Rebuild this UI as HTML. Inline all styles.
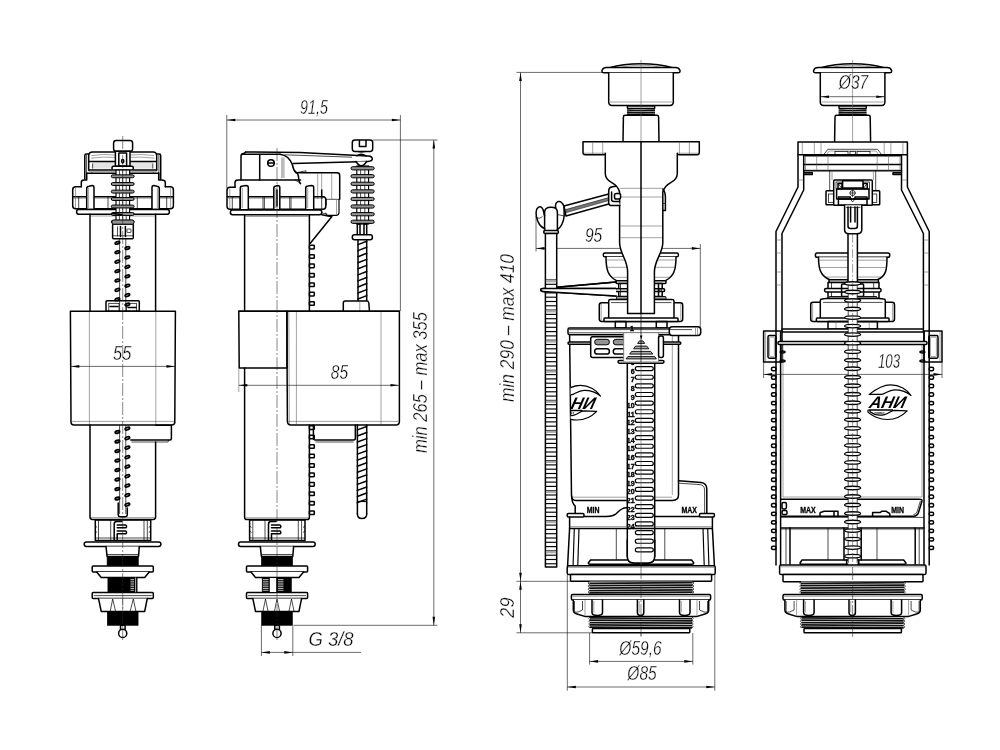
<!DOCTYPE html>
<html lang="en"><head><meta charset="utf-8"><title>Drawing</title><style>
html,body{margin:0;padding:0;background:#fff}
body{width:1000px;height:750px;overflow:hidden}
svg{display:block;will-change:transform}
.k{fill:none;stroke:#000;stroke-width:1.5;stroke-linejoin:round;stroke-linecap:round}
.kf{fill:#fff;stroke:#000;stroke-width:1.5;stroke-linejoin:round;stroke-linecap:round}
.cf{fill:#939393;stroke:#000;stroke-width:1}
.el{fill:#ccc;stroke:#000;stroke-width:1.7}
.mf{fill:#fff;stroke:#000;stroke-width:1.15}
.t{fill:none;stroke:#000;stroke-width:.7}
.g{fill:none;stroke:#555;stroke-width:.55}
.d{fill:none;stroke:#111;stroke-width:.62}
.c{fill:none;stroke:#222;stroke-width:.55;stroke-dasharray:13 2 2 2}
.w{fill:none;stroke:#fff;stroke-width:.7}
.b{fill:#000;stroke:none}
.sh{fill:#bbb;stroke:none}
.sh3{fill:#e4e4e4;stroke:none}
.wf{fill:#fff;stroke:none}
.th{fill:none;stroke:#111;stroke-width:1.75}
.hf{fill:#777;stroke:#000;stroke-width:.5}
.sh2{fill:#aaa;stroke:none}
.sl{fill:#fff;stroke:#000;stroke-width:1.15}
.sb{fill:#fff;stroke:#777;stroke-width:.9}
.trs{fill:#a8a8a8;stroke:#000;stroke-width:.9;stroke-linejoin:round}
.m{fill:none;stroke:#000;stroke-width:1.15}
.lg{fill:#fff;stroke:#000;stroke-width:1.2;stroke-linejoin:round}
.lt{font-family:"Liberation Sans","DejaVu Sans",sans-serif;font-weight:bold;font-style:italic;fill:#000}
.ls{font-family:"Liberation Sans","DejaVu Sans",sans-serif;font-weight:bold;fill:#000}
.sp{fill:#fff;stroke:#000;stroke-width:1.4}
.c2{fill:none;stroke:#444;stroke-width:.5;stroke-dasharray:9 2 2 2}
.bk{fill:#000;stroke:#000;stroke-width:.6}
.gf{fill:#999;stroke:#000;stroke-width:.9}
.tx{font-family:"Liberation Sans","DejaVu Sans",sans-serif;font-style:italic;fill:#000;stroke:#fff;stroke-width:.36}
.tb{font-family:"Liberation Sans","DejaVu Sans",sans-serif;font-weight:bold;fill:#000;stroke:#000;stroke-width:.35}
</style></head><body>
<svg width="1000" height="750" viewBox="0 0 1000 750">
<rect x="0" y="0" width="1000" height="750" fill="#fff"/>
<rect class="kf" x="113.6" y="140.4" width="19" height="10.9" rx="2.6"/>
<path class="kf" d="M88.7,170 V156 Q88.7,152 92.5,152 H153 Q156.7,152 156.7,156 V170"/>
<path class="g" d="M91.5,155.6 Q104,153.6 115,155 M154,155.6 Q141,153.6 130.5,155"/>
<path class="g" d="M91,158.2 Q104,156.4 115,157.4 M154.5,158.2 Q141,156.4 130.5,157.4"/>
<rect class="sh3" x="92.6" y="162.2" width="22.7" height="6.4"/>
<rect class="sh3" x="130" y="162.2" width="22.8" height="6.4"/>
<line class="k" x1="89.5" y1="161.4" x2="115.3" y2="161.4"/>
<line class="k" x1="130" y1="161.4" x2="156" y2="161.4"/>
<path class="t" d="M92.6,168.6 V163.5 M152.8,168.6 V163.5"/>
<path class="k" d="M84.8,179.3 V155.5 Q84.8,154 86.3,154 H88.7"/>
<line class="t" x1="86.6" y1="155" x2="86.6" y2="179"/>
<path class="k" d="M160.7,179.3 V155.5 Q160.7,154 159.2,154 H156.7"/>
<line class="t" x1="158.9" y1="155" x2="158.9" y2="179"/>
<rect class="kf" x="115.4" y="151.3" width="14.6" height="14.9"/>
<rect class="k" x="118.8" y="153" width="7.8" height="13.2"/>
<ellipse class="k" cx="122.7" cy="161.2" rx="1.1" ry="1.7"/>
<rect class="kf" x="112" y="166.2" width="21.3" height="3.8" rx="1.6"/>
<line class="k" x1="88.7" y1="170" x2="112" y2="170"/>
<line class="k" x1="133.3" y1="170" x2="156.7" y2="170"/>
<line class="k" x1="92" y1="173.3" x2="153.5" y2="173.3"/>
<line class="g" x1="88.7" y1="171.6" x2="156.7" y2="171.6"/>
<path class="k" d="M86.7,173.3 V180 H84 Q81.3,180 81.3,182.5 V186.7"/>
<path class="k" d="M158.7,173.3 V180 H161.5 Q165.3,180 165.3,182.5 V186.7"/>
<line class="k" x1="86.7" y1="173.3" x2="92" y2="173.3"/>
<line class="k" x1="153.5" y1="173.3" x2="158.7" y2="173.3"/>
<path class="k" d="M81.3,186.7 H75.7 Q72.7,186.7 72.7,189.7 V205.8 Q72.7,208.8 75.7,208.8 H170.4 Q173.4,208.8 173.4,205.8 V189.7 Q173.4,186.7 170.4,186.7 H165.3"/>
<line class="k" x1="73" y1="196.7" x2="173" y2="196.7"/>
<line class="g" x1="73" y1="198.2" x2="173" y2="198.2"/>
<line class="t" x1="78.7" y1="197" x2="78.7" y2="208.5"/>
<line class="t" x1="93.4" y1="197" x2="93.4" y2="208.5"/>
<line class="t" x1="108" y1="197" x2="108" y2="208.5"/>
<line class="t" x1="137.3" y1="197" x2="137.3" y2="208.5"/>
<line class="t" x1="152" y1="197" x2="152" y2="208.5"/>
<line class="t" x1="166.7" y1="197" x2="166.7" y2="208.5"/>
<line class="g" x1="75.5" y1="188" x2="75.5" y2="208"/>
<line class="g" x1="170.6" y1="188" x2="170.6" y2="208"/>
<path class="kf" d="M86.7,208.8 V188.5 Q86.7,186.5 89,186.2 L92,185.6 Q94,185.6 94,187.5 V208.8"/>
<path class="kf" d="M152,208.8 V187.5 Q152,185.6 154,185.6 L157,186.2 Q159.3,186.5 159.3,188.5 V208.8"/>
<line class="g" x1="88.6" y1="188" x2="88.6" y2="208"/>
<line class="g" x1="157.4" y1="188" x2="157.4" y2="208"/>
<rect class="kf" x="76.6" y="209.6" width="92.8" height="4.6" rx="2.2"/>
<line class="k" x1="90" y1="214.2" x2="90" y2="311.3"/>
<line class="k" x1="155.6" y1="214.2" x2="155.6" y2="311.3"/>
<line class="g" x1="90.5" y1="216" x2="155" y2="216"/>
<rect class="mf" x="116" y="170" width="13.6" height="52"/>
<line class="t" x1="119.4" y1="170" x2="119.4" y2="222"/>
<line class="t" x1="122.7" y1="170" x2="122.7" y2="222"/>
<line class="t" x1="126.2" y1="170" x2="126.2" y2="222"/>
<rect class="cf" x="111.3" y="174.85" width="22.8" height="2.9" rx="1.45"/>
<rect class="cf" x="111.3" y="182.55" width="22.8" height="2.9" rx="1.45"/>
<rect class="cf" x="111.3" y="190.15" width="22.8" height="2.9" rx="1.45"/>
<rect class="cf" x="111.3" y="197.55" width="22.8" height="2.9" rx="1.45"/>
<rect class="cf" x="111.3" y="205.05" width="22.8" height="2.9" rx="1.45"/>
<rect class="cf" x="111.3" y="212.55" width="22.8" height="2.9" rx="1.45"/>
<rect class="cf" x="111.3" y="220.35" width="22.8" height="2.9" rx="1.45"/>
<line class="k" x1="112.5" y1="213.6" x2="122" y2="214.6"/>
<rect class="kf" x="112.6" y="224" width="20.7" height="14.8" rx="1"/>
<rect class="cf" x="112" y="220" width="21.9" height="4.2" rx="1.6"/>
<line class="t" x1="117.5" y1="226.5" x2="117.5" y2="236.5"/>
<line class="k" x1="120.5" y1="226.5" x2="120.5" y2="236.5"/>
<line class="k" x1="125.4" y1="226.5" x2="125.4" y2="236.5"/>
<rect class="t" x="127" y="229" width="4" height="3.5" rx="0.5"/>
<line class="t" x1="113" y1="235.8" x2="133" y2="235.8"/>
<line class="t" x1="119.6" y1="238.8" x2="119.6" y2="311"/>
<line class="t" x1="125.8" y1="238.8" x2="125.8" y2="311"/>
<ellipse class="el" cx="117.4" cy="242.8" rx="2.35" ry="1.15" transform="rotate(-20 117.4 242.8)"/>
<ellipse class="el" cx="117.4" cy="252.22" rx="2.35" ry="1.15" transform="rotate(-20 117.4 252.22)"/>
<ellipse class="el" cx="117.4" cy="261.64" rx="2.35" ry="1.15" transform="rotate(-20 117.4 261.64)"/>
<ellipse class="el" cx="117.4" cy="271.06" rx="2.35" ry="1.15" transform="rotate(-20 117.4 271.06)"/>
<ellipse class="el" cx="117.4" cy="280.48" rx="2.35" ry="1.15" transform="rotate(-20 117.4 280.48)"/>
<ellipse class="el" cx="117.4" cy="289.9" rx="2.35" ry="1.15" transform="rotate(-20 117.4 289.9)"/>
<ellipse class="el" cx="117.4" cy="299.32" rx="2.35" ry="1.15" transform="rotate(-20 117.4 299.32)"/>
<ellipse class="el" cx="127.4" cy="248" rx="2.35" ry="1.15" transform="rotate(-20 127.4 248)"/>
<ellipse class="el" cx="127.4" cy="257.42" rx="2.35" ry="1.15" transform="rotate(-20 127.4 257.42)"/>
<ellipse class="el" cx="127.4" cy="266.84" rx="2.35" ry="1.15" transform="rotate(-20 127.4 266.84)"/>
<ellipse class="el" cx="127.4" cy="276.26" rx="2.35" ry="1.15" transform="rotate(-20 127.4 276.26)"/>
<ellipse class="el" cx="127.4" cy="285.68" rx="2.35" ry="1.15" transform="rotate(-20 127.4 285.68)"/>
<ellipse class="el" cx="127.4" cy="295.1" rx="2.35" ry="1.15" transform="rotate(-20 127.4 295.1)"/>
<ellipse class="el" cx="127.4" cy="304.52" rx="2.35" ry="1.15" transform="rotate(-20 127.4 304.52)"/>
<rect class="k" x="106" y="300.7" width="33.3" height="10.6" rx="1"/>
<rect class="t" x="108.8" y="303.3" width="10.2" height="8"/>
<rect class="t" x="126.5" y="303.3" width="10.1" height="8"/>
<line class="k" x1="110" y1="306.5" x2="118" y2="306.5"/>
<line class="k" x1="128" y1="307.5" x2="136" y2="307.5"/>
<path class="k" d="M70.4,311.3 H175.4 L174.8,422 Q174.8,425 171.8,425 H74 Q71,425 71,422 Z"/>
<line class="g" x1="72" y1="421.4" x2="174" y2="421.4"/>
<line class="g" x1="89.4" y1="311.8" x2="89.4" y2="424.5"/>
<line class="g" x1="155.8" y1="311.8" x2="155.8" y2="424.5"/>
<line class="d" x1="70.8" y1="366.4" x2="175" y2="366.4"/>
<polygon class="b" points="70.8,366.4 79.3,365.1 79.3,367.7"/>
<polygon class="b" points="175,366.4 166.5,365.1 166.5,367.7"/>
<text class="tx" transform="translate(122.2 360) scale(0.78 1)" font-size="21" text-anchor="middle">55</text>
<path class="k" d="M90,425 V517 Q90,519.4 92.4,519.4 H153.2 Q155.6,519.4 155.6,517 V442"/>
<line class="g" x1="91" y1="517.6" x2="154.6" y2="517.6"/>
<path class="k" d="M155.6,425.3 H171.4 V438.5 Q171.4,440 170,440 H130.8"/>
<line class="t" x1="131.5" y1="442" x2="168" y2="442"/>
<line class="t" x1="168" y1="442" x2="169" y2="440"/>
<line class="t" x1="119.6" y1="425.3" x2="119.6" y2="514"/>
<line class="t" x1="125.8" y1="425.3" x2="125.8" y2="514"/>
<ellipse class="el" cx="117.4" cy="432" rx="2.35" ry="1.15" transform="rotate(-20 117.4 432)"/>
<ellipse class="el" cx="117.4" cy="441.5" rx="2.35" ry="1.15" transform="rotate(-20 117.4 441.5)"/>
<ellipse class="el" cx="117.4" cy="451" rx="2.35" ry="1.15" transform="rotate(-20 117.4 451)"/>
<ellipse class="el" cx="117.4" cy="460.5" rx="2.35" ry="1.15" transform="rotate(-20 117.4 460.5)"/>
<ellipse class="el" cx="117.4" cy="470" rx="2.35" ry="1.15" transform="rotate(-20 117.4 470)"/>
<ellipse class="el" cx="117.4" cy="479.5" rx="2.35" ry="1.15" transform="rotate(-20 117.4 479.5)"/>
<ellipse class="el" cx="117.4" cy="489" rx="2.35" ry="1.15" transform="rotate(-20 117.4 489)"/>
<ellipse class="el" cx="117.4" cy="498.5" rx="2.35" ry="1.15" transform="rotate(-20 117.4 498.5)"/>
<ellipse class="el" cx="127.4" cy="428.6" rx="2.35" ry="1.15" transform="rotate(-20 127.4 428.6)"/>
<ellipse class="el" cx="127.4" cy="438.1" rx="2.35" ry="1.15" transform="rotate(-20 127.4 438.1)"/>
<ellipse class="el" cx="127.4" cy="447.6" rx="2.35" ry="1.15" transform="rotate(-20 127.4 447.6)"/>
<ellipse class="el" cx="127.4" cy="457.1" rx="2.35" ry="1.15" transform="rotate(-20 127.4 457.1)"/>
<ellipse class="el" cx="127.4" cy="466.6" rx="2.35" ry="1.15" transform="rotate(-20 127.4 466.6)"/>
<ellipse class="el" cx="127.4" cy="476.1" rx="2.35" ry="1.15" transform="rotate(-20 127.4 476.1)"/>
<ellipse class="el" cx="127.4" cy="485.6" rx="2.35" ry="1.15" transform="rotate(-20 127.4 485.6)"/>
<ellipse class="el" cx="127.4" cy="495.1" rx="2.35" ry="1.15" transform="rotate(-20 127.4 495.1)"/>
<ellipse class="el" cx="127.4" cy="504.6" rx="2.35" ry="1.15" transform="rotate(-20 127.4 504.6)"/>
<path class="k" d="M118.2,503 V514.5 Q118.2,516.8 120.4,516.8 H125 Q127.3,516.8 127.3,514.5 V508"/>
<rect class="k" x="95.3" y="520" width="55.4" height="20.5"/>
<line class="t" x1="98.5" y1="520" x2="98.5" y2="540.5"/>
<line class="t" x1="110.7" y1="520" x2="110.7" y2="540.5"/>
<line class="t" x1="144" y1="520" x2="144" y2="540.5"/>
<line class="t" x1="147.3" y1="520" x2="147.3" y2="540.5"/>
<line class="t" x1="95.3" y1="526" x2="97.2" y2="527.5"/>
<line class="t" x1="150.7" y1="526" x2="148.7" y2="527.5"/>
<line class="t" x1="95.3" y1="531" x2="97.2" y2="532.5"/>
<line class="t" x1="150.7" y1="531" x2="148.7" y2="532.5"/>
<path class="k" d="M114.2,540 V524 Q114.2,521.5 116.7,521.5 H121.7"/>
<path class="k" d="M117.2,525 H125.7 Q127.5,526.4 125.7,527.8 H117.2"/>
<path class="k" d="M117.2,531 H125.7 Q127.5,532.4 125.7,533.8 H117.2 V540"/>
<line class="t" x1="95.3" y1="538" x2="150.7" y2="538"/>
<rect class="kf" x="84.2" y="542" width="76.7" height="4.4" rx="2.2"/>
<path class="kf" d="M106,546.4 L107.1,556.5 H138.5 L139.3,546.4"/>
<line class="t" x1="107.1" y1="554.5" x2="138.5" y2="554.5"/>
<rect class="bk" x="107.1" y="556.6" width="31.2" height="9.2"/>
<rect class="kf" x="92.2" y="566" width="61.1" height="6" rx="1"/>
<path class="kf" d="M96.7,572 L101.2,577.4 H144.7 L149.2,572"/>
<rect class="bk" x="107.9" y="577.6" width="29.2" height="14.6"/>
<rect class="kf" x="92.2" y="592.4" width="61.1" height="6" rx="1"/>
<line class="t" x1="93.7" y1="595.6" x2="151.7" y2="595.6"/>
<path class="kf" d="M98.5,598.4 L101.2,611.4 H144.7 L147.3,598.4"/>
<rect class="bk" x="107.3" y="611.6" width="30.8" height="13.7"/>
<rect class="kf" x="120.5" y="625.3" width="4.6" height="5.2"/>
<circle class="kf" cx="122.7" cy="633.4" r="4.1"/>
<line class="w" x1="130.5" y1="579.5" x2="134" y2="579.5"/>
<line class="w" x1="130.5" y1="581.3" x2="134" y2="581.3"/>
<line class="w" x1="130.5" y1="583.1" x2="134" y2="583.1"/>
<line class="w" x1="130.5" y1="584.9" x2="134" y2="584.9"/>
<line class="w" x1="130.5" y1="586.7" x2="134" y2="586.7"/>
<line class="w" x1="130.5" y1="588.5" x2="134" y2="588.5"/>
<line class="w" x1="130.5" y1="590.3" x2="134" y2="590.3"/>
<line class="w" x1="135.6" y1="577.6" x2="135.6" y2="592.2"/>
<path class="t" d="M110.3,611 L112.7,599 L115.5,611 M130.2,611 L133.3,599 L135.9,611"/>
<line class="g" x1="122.7" y1="598.6" x2="122.7" y2="611"/>
<line class="c" x1="122.7" y1="136" x2="122.7" y2="640"/>
<line class="d" x1="226.8" y1="115" x2="226.8" y2="188"/>
<line class="d" x1="400.4" y1="115" x2="400.4" y2="311"/>
<line class="d" x1="226.8" y1="120" x2="400.4" y2="120"/>
<polygon class="b" points="226.8,120 235.3,118.7 235.3,121.3"/>
<polygon class="b" points="400.4,120 391.9,118.7 391.9,121.3"/>
<text class="tx" transform="translate(314 114) scale(0.68 1)" font-size="21" text-anchor="middle">91,5</text>
<line class="d" x1="373" y1="140" x2="437.5" y2="140"/>
<line class="d" x1="293.5" y1="625.3" x2="437.5" y2="625.3"/>
<line class="d" x1="433.8" y1="140" x2="433.8" y2="625.3"/>
<polygon class="b" points="433.8,140 432.5,148.5 435.1,148.5"/>
<polygon class="b" points="433.8,625.3 432.5,616.8 435.1,616.8"/>
<text class="tx" transform="translate(426.5 382.5) rotate(-90) scale(0.79 1)" font-size="21" text-anchor="middle">min 265 – max 355</text>
<path class="kf" d="M245.7,152 L300,152.6 L368,155.9 Q372.3,156.2 372.3,158.8 Q372.3,161.3 368,161.4 L293,163.5"/>
<line class="t" x1="284.5" y1="154.8" x2="352" y2="157.2"/>
<path class="k" d="M241,180 V156.5 Q241,154 243.5,153.6 L245.7,152.2"/>
<line class="k" x1="241.5" y1="154.2" x2="280" y2="154.2"/>
<line class="k" x1="259.7" y1="154.6" x2="259.7" y2="180"/>
<circle class="k" cx="271" cy="163" r="3.3"/>
<line class="k" x1="268.2" y1="163" x2="273.8" y2="163"/>
<rect class="sh" x="281" y="157.5" width="3.6" height="20.5"/>
<path class="k" d="M280,154.2 Q289,155.5 292.3,164.5 Q293.3,170 296,172.7 H337 Q339.7,172.7 339.7,175.4 V199.3"/>
<path class="k" d="M295,171.3 Q298.5,173 298.6,178 Q298.8,182 300.5,183.6"/>
<line class="t" x1="296" y1="172.7" x2="306" y2="170.8"/>
<line class="t" x1="306" y1="170.8" x2="306" y2="172.7"/>
<line class="g" x1="317.7" y1="173" x2="317.7" y2="199"/>
<line class="g" x1="321.7" y1="173" x2="321.7" y2="199"/>
<line class="g" x1="331.7" y1="173" x2="331.7" y2="199"/>
<path class="t" d="M326,199.3 H339.7"/>
<path class="m" d="M326,199.3 V205 M339,199.3 V212.5 Q339,215.4 336,215.4 H328.5 Q326,215.4 325.8,213"/>
<line class="g" x1="336.5" y1="200" x2="336.5" y2="214.5"/>
<path class="k" d="M300.5,180 H238 Q235,180 235,182.6 V187.3"/>
<path class="t" d="M300.5,183.6 Q298,181.5 295,180"/>
<path class="k" d="M235,187.3 H230 Q227,187.3 227,190.3 V206.3 Q227,209.3 230,209.3 H323 Q325.8,209.3 325.8,206.3 V199.5 Q325.8,196.7 323,196.7"/>
<line class="k" x1="227.3" y1="196.7" x2="323" y2="196.7"/>
<line class="g" x1="227.3" y1="198.2" x2="323" y2="198.2"/>
<path class="k" d="M321.7,196.7 V190"/>
<line class="t" x1="232.3" y1="197" x2="232.3" y2="209"/>
<line class="t" x1="239.7" y1="197" x2="239.7" y2="209"/>
<line class="t" x1="246.3" y1="197" x2="246.3" y2="209"/>
<line class="t" x1="263" y1="197" x2="263" y2="209"/>
<line class="t" x1="264.4" y1="197" x2="264.4" y2="209"/>
<line class="t" x1="289.7" y1="197" x2="289.7" y2="209"/>
<line class="t" x1="291" y1="197" x2="291" y2="209"/>
<line class="t" x1="307" y1="197" x2="307" y2="209"/>
<line class="t" x1="321.7" y1="197" x2="321.7" y2="209"/>
<line class="g" x1="229.8" y1="188.5" x2="229.8" y2="208.5"/>
<path class="kf" d="M240.3,209 V188.2 Q240.3,186.2 242.5,186 L246.1,185.5 Q248.3,185.5 248.3,187.5 V209"/>
<line class="g" x1="242.3" y1="188" x2="242.3" y2="208"/>
<path class="kf" d="M273.8,209 V188.2 Q273.8,186.2 276,186 L277.6,185.5 Q279.8,185.5 279.8,187.5 V209"/>
<line class="g" x1="275.8" y1="188" x2="275.8" y2="208"/>
<path class="kf" d="M305.7,209 V188.2 Q305.7,186.2 307.9,186 L311.5,185.5 Q313.7,185.5 313.7,187.5 V209"/>
<line class="g" x1="307.7" y1="188" x2="307.7" y2="208"/>
<line class="k" x1="277" y1="190" x2="277" y2="206"/>
<rect class="kf" x="230.4" y="210" width="91.4" height="4.7" rx="2.2"/>
<path class="k" d="M321.8,214.7 L331.7,216.7"/>
<path class="t" d="M325.8,213 Q324,214.5 321.8,212.5"/>
<line class="k" x1="331.7" y1="216.7" x2="310.3" y2="243.3"/>
<line class="k" x1="244.6" y1="214.7" x2="244.6" y2="311.3"/>
<line class="k" x1="309.4" y1="214.7" x2="309.4" y2="311.3"/>
<line class="g" x1="245.2" y1="216.5" x2="308.8" y2="216.5"/>
<rect class="k" x="309.4" y="245.3" width="4.9" height="3.6" rx="0.6"/>
<rect class="k" x="309.4" y="254.7" width="4.9" height="3.6" rx="0.6"/>
<rect class="k" x="309.4" y="264.1" width="4.9" height="3.6" rx="0.6"/>
<rect class="k" x="309.4" y="273.5" width="4.9" height="3.6" rx="0.6"/>
<rect class="k" x="309.4" y="282.9" width="4.9" height="3.6" rx="0.6"/>
<rect class="k" x="309.4" y="292.3" width="4.9" height="3.6" rx="0.6"/>
<rect class="k" x="309.4" y="301.7" width="4.9" height="3.6" rx="0.6"/>
<rect class="kf" x="352.3" y="140" width="20.4" height="11.4" rx="2.6"/>
<path class="k" d="M359.4,140.4 V146.6 H366 V140.4"/>
<path class="t" d="M356.5,151.4 Q361.3,153.5 366,151.4"/>
<path class="kf" d="M356,161.5 Q361.3,170 366.6,161.5"/>
<path class="k" d="M356.8,155.8 Q361.3,152.8 366,156"/>
<rect class="mf" x="356.8" y="166" width="11.8" height="58"/>
<line class="t" x1="360.6" y1="166" x2="360.6" y2="224"/>
<line class="t" x1="364.8" y1="166" x2="364.8" y2="224"/>
<rect class="cf" x="351" y="166.7" width="23.2" height="3.2" rx="1.6"/>
<rect class="cf" x="351" y="174.6" width="23.2" height="3.2" rx="1.6"/>
<rect class="cf" x="351" y="182.2" width="23.2" height="3.2" rx="1.6"/>
<rect class="cf" x="351" y="189.8" width="23.2" height="3.2" rx="1.6"/>
<rect class="cf" x="351" y="197.4" width="23.2" height="3.2" rx="1.6"/>
<rect class="cf" x="351" y="204.9" width="23.2" height="3.2" rx="1.6"/>
<rect class="cf" x="351" y="212.6" width="23.2" height="3.2" rx="1.6"/>
<rect class="cf" x="351" y="220.2" width="23.2" height="3.2" rx="1.6"/>
<rect class="k" x="357.3" y="224" width="2.7" height="10.7"/>
<rect class="k" x="364" y="224" width="2.7" height="10.7"/>
<rect class="kf" x="352.3" y="234.7" width="20.1" height="5" rx="2.2"/>
<line class="k" x1="358" y1="239.7" x2="358" y2="301"/>
<line class="k" x1="366.7" y1="239.7" x2="366.7" y2="301"/>
<line class="k" x1="358" y1="244.6" x2="366.7" y2="241.2"/>
<line class="k" x1="358" y1="250.65" x2="366.7" y2="247.25"/>
<line class="k" x1="358" y1="256.7" x2="366.7" y2="253.3"/>
<line class="k" x1="358" y1="262.75" x2="366.7" y2="259.35"/>
<line class="k" x1="358" y1="268.8" x2="366.7" y2="265.4"/>
<line class="k" x1="358" y1="274.85" x2="366.7" y2="271.45"/>
<line class="k" x1="358" y1="280.9" x2="366.7" y2="277.5"/>
<line class="k" x1="358" y1="286.95" x2="366.7" y2="283.55"/>
<line class="k" x1="358" y1="293" x2="366.7" y2="289.6"/>
<line class="k" x1="358" y1="299.05" x2="366.7" y2="295.65"/>
<path class="kf" d="M343.3,311.3 V303 Q343.3,301 345.3,301 H367 Q368.6,301 368.8,303 L369.5,311.3"/>
<line class="g" x1="359.8" y1="301.5" x2="359.8" y2="311"/>
<path class="k" d="M238.8,311.3 H287 V368 H239.2 Z"/>
<line class="g" x1="238.8" y1="368" x2="238.8" y2="392"/>
<path class="k" d="M286.8,311.3 H399.4 V421.5 Q399.4,425 396,425 H291 Q287.6,425 287.4,421.5 Z"/>
<line class="g" x1="288.8" y1="312" x2="289.3" y2="424"/>
<line class="g" x1="296.4" y1="312" x2="296.4" y2="424.5"/>
<line class="g" x1="381" y1="312" x2="381" y2="424.5"/>
<line class="g" x1="288" y1="421.4" x2="399" y2="421.4"/>
<line class="k" x1="238.8" y1="311.3" x2="399.4" y2="311.3"/>
<line class="d" x1="238.8" y1="385.3" x2="399" y2="385.3"/>
<polygon class="b" points="238.8,385.3 247.3,384 247.3,386.6"/>
<polygon class="b" points="399,385.3 390.5,384 390.5,386.6"/>
<text class="tx" transform="translate(339.5 378.6) scale(0.74 1)" font-size="21" text-anchor="middle">85</text>
<path class="k" d="M244.6,368 V517.2 Q244.6,519.6 247,519.6 H307 Q309.4,519.6 309.4,517.2 V425"/>
<line class="g" x1="245.5" y1="517.8" x2="308.5" y2="517.8"/>
<rect class="k" x="309.4" y="425.8" width="4.9" height="3.6" rx="0.6"/>
<rect class="k" x="309.4" y="435.26" width="4.9" height="3.6" rx="0.6"/>
<rect class="k" x="309.4" y="444.72" width="4.9" height="3.6" rx="0.6"/>
<rect class="k" x="309.4" y="454.18" width="4.9" height="3.6" rx="0.6"/>
<rect class="k" x="309.4" y="463.64" width="4.9" height="3.6" rx="0.6"/>
<rect class="k" x="309.4" y="473.1" width="4.9" height="3.6" rx="0.6"/>
<rect class="k" x="309.4" y="482.56" width="4.9" height="3.6" rx="0.6"/>
<rect class="k" x="309.4" y="492.02" width="4.9" height="3.6" rx="0.6"/>
<rect class="k" x="309.4" y="501.48" width="4.9" height="3.6" rx="0.6"/>
<rect class="k" x="309.4" y="510.94" width="4.9" height="3.6" rx="0.6"/>
<path class="k" d="M313.4,425 V438.6 Q313.4,440 315,440 H354 Q355.4,440 355.4,438.6 V425"/>
<line class="t" x1="315.5" y1="442" x2="353.5" y2="442"/>
<line class="t" x1="355.4" y1="425" x2="355.4" y2="440"/>
<line class="k" x1="357.4" y1="425" x2="357.4" y2="503"/>
<line class="k" x1="366.7" y1="425" x2="366.7" y2="503"/>
<line class="k" x1="357.4" y1="429.9" x2="366.7" y2="426.5"/>
<line class="k" x1="357.4" y1="435.95" x2="366.7" y2="432.55"/>
<line class="k" x1="357.4" y1="442" x2="366.7" y2="438.6"/>
<line class="k" x1="357.4" y1="448.05" x2="366.7" y2="444.65"/>
<line class="k" x1="357.4" y1="454.1" x2="366.7" y2="450.7"/>
<line class="k" x1="357.4" y1="460.15" x2="366.7" y2="456.75"/>
<line class="k" x1="357.4" y1="466.2" x2="366.7" y2="462.8"/>
<line class="k" x1="357.4" y1="472.25" x2="366.7" y2="468.85"/>
<line class="k" x1="357.4" y1="478.3" x2="366.7" y2="474.9"/>
<line class="k" x1="357.4" y1="484.35" x2="366.7" y2="480.95"/>
<line class="k" x1="357.4" y1="490.4" x2="366.7" y2="487"/>
<line class="k" x1="357.4" y1="496.45" x2="366.7" y2="493.05"/>
<line class="k" x1="357.4" y1="502.5" x2="366.7" y2="499.1"/>
<line class="k" x1="357.4" y1="503" x2="357.4" y2="514"/>
<line class="k" x1="366.7" y1="503" x2="366.7" y2="514"/>
<line class="m" x1="357.4" y1="501.5" x2="366.7" y2="501.5"/>
<path class="k" d="M357.4,514 Q357.4,518.5 362,518.5 Q366.7,518.5 366.7,514"/>
<rect class="k" x="249.6" y="520" width="55.4" height="20.5"/>
<line class="t" x1="252.8" y1="520" x2="252.8" y2="540.5"/>
<line class="t" x1="265" y1="520" x2="265" y2="540.5"/>
<line class="t" x1="298.3" y1="520" x2="298.3" y2="540.5"/>
<line class="t" x1="301.6" y1="520" x2="301.6" y2="540.5"/>
<line class="t" x1="249.6" y1="526" x2="251.5" y2="527.5"/>
<line class="t" x1="305" y1="526" x2="303" y2="527.5"/>
<line class="t" x1="249.6" y1="531" x2="251.5" y2="532.5"/>
<line class="t" x1="305" y1="531" x2="303" y2="532.5"/>
<path class="k" d="M268.5,540 V524 Q268.5,521.5 271,521.5 H276"/>
<path class="k" d="M271.5,525 H280 Q281.8,526.4 280,527.8 H271.5"/>
<path class="k" d="M271.5,531 H280 Q281.8,532.4 280,533.8 H271.5 V540"/>
<line class="t" x1="249.6" y1="538" x2="305" y2="538"/>
<rect class="kf" x="238.5" y="542" width="76.7" height="4.4" rx="2.2"/>
<path class="kf" d="M260.3,546.4 L261.4,556.5 H292.8 L293.6,546.4"/>
<line class="t" x1="261.4" y1="554.5" x2="292.8" y2="554.5"/>
<rect class="bk" x="261.4" y="556.6" width="31.2" height="9.2"/>
<rect class="kf" x="246.5" y="566" width="61.1" height="6" rx="1"/>
<path class="kf" d="M251,572 L255.5,577.4 H299 L303.5,572"/>
<rect class="bk" x="262.2" y="577.6" width="29.2" height="14.6"/>
<rect class="kf" x="246.5" y="592.4" width="61.1" height="6" rx="1"/>
<line class="t" x1="248" y1="595.6" x2="306" y2="595.6"/>
<path class="kf" d="M252.8,598.4 L255.5,611.4 H299 L301.6,598.4"/>
<rect class="bk" x="261.6" y="611.6" width="30.8" height="13.7"/>
<rect class="kf" x="274.8" y="625.3" width="4.6" height="5.2"/>
<circle class="kf" cx="277" cy="633.4" r="4.1"/>
<rect class="wf" x="269.8" y="578" width="6.4" height="14"/>
<line class="w" x1="263" y1="579.5" x2="268.5" y2="579.5"/>
<line class="w" x1="278" y1="579.5" x2="283.5" y2="579.5"/>
<line class="w" x1="263" y1="581.3" x2="268.5" y2="581.3"/>
<line class="w" x1="278" y1="581.3" x2="283.5" y2="581.3"/>
<line class="w" x1="263" y1="583.1" x2="268.5" y2="583.1"/>
<line class="w" x1="278" y1="583.1" x2="283.5" y2="583.1"/>
<line class="w" x1="263" y1="584.9" x2="268.5" y2="584.9"/>
<line class="w" x1="278" y1="584.9" x2="283.5" y2="584.9"/>
<line class="w" x1="263" y1="586.7" x2="268.5" y2="586.7"/>
<line class="w" x1="278" y1="586.7" x2="283.5" y2="586.7"/>
<line class="w" x1="263" y1="588.5" x2="268.5" y2="588.5"/>
<line class="w" x1="278" y1="588.5" x2="283.5" y2="588.5"/>
<line class="w" x1="263" y1="590.3" x2="268.5" y2="590.3"/>
<line class="w" x1="278" y1="590.3" x2="283.5" y2="590.3"/>
<path class="t" d="M263,611 L265.5,599 L268,611 M274.5,611 L277,599 L279.5,611 M289,611 L291.5,599 L294,611"/>
<line class="d" x1="261.4" y1="625.5" x2="261.4" y2="656"/>
<line class="d" x1="292.8" y1="625.5" x2="292.8" y2="656"/>
<line class="d" x1="261.4" y1="652.4" x2="361" y2="652.4"/>
<polygon class="b" points="261.4,652.4 269.9,651.1 269.9,653.7"/>
<polygon class="b" points="292.8,652.4 284.3,651.1 284.3,653.7"/>
<text class="tx" transform="translate(331 646) scale(0.88 1)" font-size="21" text-anchor="middle">G 3/8</text>
<line class="c" x1="277" y1="148" x2="277" y2="640"/>
<line class="d" x1="520.5" y1="72.5" x2="520.5" y2="632.8"/>
<polygon class="b" points="520.5,72.5 519.2,81 521.8,81"/>
<polygon class="b" points="520.5,581.3 519.2,572.8 521.8,572.8"/>
<polygon class="b" points="520.5,581.3 519.2,589.8 521.8,589.8"/>
<polygon class="b" points="520.5,632.8 519.2,624.3 521.8,624.3"/>
<line class="d" x1="516.5" y1="72.4" x2="602" y2="72.4"/>
<line class="d" x1="516.4" y1="581.3" x2="570.5" y2="581.3"/>
<line class="d" x1="516.4" y1="632.8" x2="592.4" y2="632.8"/>
<text class="tx" transform="translate(514.3 328) rotate(-90) scale(0.83 1)" font-size="21" text-anchor="middle">min 290 – max 410</text>
<text class="tx" transform="translate(513.8 607.6) rotate(-90) scale(0.86 1)" font-size="21" text-anchor="middle">29</text>
<line class="d" x1="536" y1="216" x2="536" y2="251.5"/>
<line class="d" x1="700.3" y1="244" x2="700.3" y2="327"/>
<line class="d" x1="536" y1="248.4" x2="700.3" y2="248.4"/>
<polygon class="b" points="536,248.4 544.5,247.1 544.5,249.7"/>
<polygon class="b" points="700.3,248.4 691.8,247.1 691.8,249.7"/>
<text class="tx" transform="translate(593.6 242) scale(0.74 1)" font-size="21" text-anchor="middle">95</text>
<line class="d" x1="589.6" y1="633" x2="589.6" y2="664.6"/>
<line class="d" x1="692.8" y1="633" x2="692.8" y2="664.6"/>
<line class="d" x1="589.6" y1="661.4" x2="692.8" y2="661.4"/>
<polygon class="b" points="589.6,661.4 598.1,660.1 598.1,662.7"/>
<polygon class="b" points="692.8,661.4 684.3,660.1 684.3,662.7"/>
<text class="tx" transform="translate(640.5 655) scale(0.74 1)" font-size="21" text-anchor="middle">Ø59,6</text>
<line class="d" x1="567.3" y1="575" x2="567.3" y2="690.7"/>
<line class="d" x1="714.8" y1="575" x2="714.8" y2="690.7"/>
<line class="d" x1="567.3" y1="687" x2="714.8" y2="687"/>
<polygon class="b" points="567.3,687 575.8,685.7 575.8,688.3"/>
<polygon class="b" points="714.8,687 706.3,685.7 706.3,688.3"/>
<text class="tx" transform="translate(642 679.5) scale(0.74 1)" font-size="21" text-anchor="middle">Ø85</text>
<path class="k" d="M609.5,67.8 C627,62.3 655,62.3 672.5,67.8"/>
<path class="g" d="M619,67.8 C632,64.4 650,64.4 663,67.8"/>
<path class="kf" d="M604,72.7 Q601.6,72.7 602,70.5 Q603,67.6 606.5,67.6 H675.5 Q679,67.6 680,70.5 Q680.4,72.7 678,72.7 Z"/>
<path class="kf" d="M608.7,72.7 V102 Q608.7,105.4 612,105.4 H670 Q673.3,105.4 673.3,102 V72.7"/>
<line class="g" x1="610" y1="102" x2="672" y2="102"/>
<rect class="kf" x="627.4" y="106" width="27.3" height="2.6" rx="0.8"/>
<path class="th" d="M627,110 Q641,111.2 655,110.2"/>
<path class="th" d="M627,112.1 Q641,113.3 655,112.3"/>
<path class="th" d="M627,114.2 Q641,115.4 655,114.4"/>
<path class="kf" d="M623,141.5 L623.4,117 Q623.4,115.3 625,115.3 H657 Q658.6,115.3 658.6,117 L659,141.5"/>
<line class="g" x1="641" y1="60" x2="641" y2="142"/>
<rect class="kf" x="603.3" y="253" width="75.1" height="3.8" rx="1.6"/>
<path class="kf" d="M606,256.8 C606,270 608,276 616.5,280.7 H665.5 C674,276 676,270 676,256.8"/>
<line class="g" x1="606.5" y1="260" x2="675.5" y2="260"/>
<line class="g" x1="607.5" y1="267.3" x2="674.5" y2="267.3"/>
<line class="g" x1="612.5" y1="277.3" x2="669.5" y2="277.3"/>
<rect class="kf" x="616" y="280.7" width="50" height="2.7" rx="0.8"/>
<rect class="kf" x="618.7" y="283.4" width="43.5" height="13.1"/>
<rect class="kf" x="615.3" y="288.7" width="49.3" height="2.7" rx="1"/>
<line class="k" x1="658.5" y1="283.4" x2="658.5" y2="296.5"/>
<circle class="t" cx="660.3" cy="290" r="1.2"/>
<rect class="gf" x="616.5" y="296.5" width="49.5" height="2.9" rx="0.6"/>
<line class="t" x1="620.5" y1="283.4" x2="620.5" y2="296.5"/>
<path class="k" d="M556.7,287.3 L616,282 M616,296 L543,291.4 Q540.8,291.3 540.8,289.8 Q540.8,288.5 543,288.5 H616"/>
<rect class="kf" x="599.3" y="302.7" width="83.4" height="18.7" rx="2.4"/>
<line class="g" x1="601.2" y1="304" x2="601.2" y2="320"/>
<line class="g" x1="680.8" y1="304" x2="680.8" y2="320"/>
<path class="kf" d="M608.7,318 V301 Q608.7,299.4 610.5,299.4 H672.2 Q674,299.4 674,301 V318"/>
<path class="t" d="M611,302.6 H671.5"/>
<rect class="kf" x="604" y="318" width="74" height="3.4" rx="0.8"/>
<rect class="k" x="615.3" y="321.4" width="10.7" height="6.6"/>
<rect class="k" x="656.3" y="321.4" width="10.7" height="6.6"/>
<path class="kf" d="M583,141.7 H699.3 V152.5 Q699.3,154.8 697,154.8 H679 Q677.3,154.8 677.3,153.2 V174 Q677,179 671.5,182.2 Q664.5,186 662.8,192 V243 C662.4,254 654.4,260 654.4,272 V313.5 H627.6 V272 C627.6,260 620,254 619.6,243 V192 Q618,186 611,182.2 Q605.6,179 605.3,174 V153.2 Q605.3,154.8 603.6,154.8 H585.3 Q583,154.8 583,152.5 Z"/>
<line class="g" x1="592.7" y1="142.3" x2="592.7" y2="154.2"/>
<line class="g" x1="602.7" y1="142.3" x2="602.7" y2="154.2"/>
<line class="g" x1="679.4" y1="142.3" x2="679.4" y2="154.2"/>
<line class="g" x1="689.4" y1="142.3" x2="689.4" y2="154.2"/>
<line class="g" x1="584" y1="153.2" x2="605" y2="153.2"/>
<line class="g" x1="678" y1="153.2" x2="698.5" y2="153.2"/>
<line class="g" x1="620" y1="188.3" x2="662.4" y2="188.3"/>
<line class="g" x1="620" y1="197" x2="662.4" y2="197"/>
<line class="g" x1="620" y1="226" x2="662.4" y2="226"/>
<line class="g" x1="620" y1="237.7" x2="662.4" y2="237.7"/>
<line class="k" x1="641" y1="141.7" x2="641" y2="313.5"/>
<path class="k" d="M662.8,189 Q665.4,192 665.4,197 V210.6 H662.8"/>
<line class="t" x1="662.8" y1="203.5" x2="665.4" y2="203.5"/>
<path class="kf" d="M564,206 L608.7,194 V204 L566,216 Z"/>
<path class="hf" d="M565.5,209.6 L608.7,197.6 V200.6 L566.3,212.6 Z"/>
<path class="kf" d="M619.8,205.4 H611 Q608.7,205.4 608.7,203 V191 Q608.7,187.4 612.5,186.8 L616,186.2"/>
<path class="k" d="M611.6,192 V199.5 Q611.6,201.5 614,201.5 H619.5"/>
<rect class="kf" x="614.5" y="193.6" width="6.1" height="5.4" rx="1.8"/>
<path class="kf" d="M544.6,233 V212.5 Q544.6,207.3 551,207.3 Q557.4,207.3 557.4,212.5 V233"/>
<path class="k" d="M544.6,228.5 Q538.5,226.5 536.4,216.5 Q535.2,209.5 538.3,207.3 Q541.6,205.6 543.2,210 L544.6,216"/>
<path class="t" d="M536.6,218 Q540,219 542.5,216.6"/>
<path class="k" d="M557.4,229.5 Q563,226 564.2,216 L564,206.5 Q561.8,200.6 558,201.6 Q554.6,203 555.8,208"/>
<line class="t" x1="557.4" y1="214.5" x2="564.2" y2="216"/>
<rect class="kf" x="543.8" y="230.6" width="14.6" height="2.8" rx="1.2"/>
<line class="t" x1="545.5" y1="235.6" x2="556.6" y2="235.6"/>
<rect class="kf" x="545.4" y="233.4" width="11.3" height="333.6"/>
<line class="m" x1="545.4" y1="280" x2="556.7" y2="280"/>
<rect class="sh2" x="545.9" y="280" width="10.3" height="2.4"/>
<line class="m" x1="545.4" y1="284.3" x2="556.7" y2="284.3"/>
<line class="m" x1="545.4" y1="288.6" x2="556.7" y2="288.6"/>
<line class="m" x1="545.4" y1="292.9" x2="556.7" y2="292.9"/>
<line class="m" x1="545.4" y1="297.2" x2="556.7" y2="297.2"/>
<line class="m" x1="545.4" y1="301.5" x2="556.7" y2="301.5"/>
<line class="m" x1="545.4" y1="305.8" x2="556.7" y2="305.8"/>
<line class="m" x1="545.4" y1="310.1" x2="556.7" y2="310.1"/>
<rect class="sh2" x="545.9" y="310.1" width="10.3" height="2.4"/>
<line class="m" x1="545.4" y1="314.4" x2="556.7" y2="314.4"/>
<line class="m" x1="545.4" y1="318.7" x2="556.7" y2="318.7"/>
<line class="m" x1="545.4" y1="323" x2="556.7" y2="323"/>
<line class="m" x1="545.4" y1="327.3" x2="556.7" y2="327.3"/>
<line class="m" x1="545.4" y1="331.6" x2="556.7" y2="331.6"/>
<line class="m" x1="545.4" y1="335.9" x2="556.7" y2="335.9"/>
<line class="m" x1="545.4" y1="340.2" x2="556.7" y2="340.2"/>
<rect class="sh2" x="545.9" y="340.2" width="10.3" height="2.4"/>
<line class="m" x1="545.4" y1="344.5" x2="556.7" y2="344.5"/>
<line class="m" x1="545.4" y1="348.8" x2="556.7" y2="348.8"/>
<line class="m" x1="545.4" y1="353.1" x2="556.7" y2="353.1"/>
<line class="m" x1="545.4" y1="357.4" x2="556.7" y2="357.4"/>
<line class="m" x1="545.4" y1="361.7" x2="556.7" y2="361.7"/>
<line class="m" x1="545.4" y1="366" x2="556.7" y2="366"/>
<line class="m" x1="545.4" y1="370.3" x2="556.7" y2="370.3"/>
<rect class="sh2" x="545.9" y="370.3" width="10.3" height="2.4"/>
<line class="m" x1="545.4" y1="374.6" x2="556.7" y2="374.6"/>
<line class="m" x1="545.4" y1="378.9" x2="556.7" y2="378.9"/>
<line class="m" x1="545.4" y1="383.2" x2="556.7" y2="383.2"/>
<line class="m" x1="545.4" y1="387.5" x2="556.7" y2="387.5"/>
<line class="m" x1="545.4" y1="391.8" x2="556.7" y2="391.8"/>
<line class="m" x1="545.4" y1="396.1" x2="556.7" y2="396.1"/>
<line class="m" x1="545.4" y1="400.4" x2="556.7" y2="400.4"/>
<rect class="sh2" x="545.9" y="400.4" width="10.3" height="2.4"/>
<line class="m" x1="545.4" y1="404.7" x2="556.7" y2="404.7"/>
<line class="m" x1="545.4" y1="409" x2="556.7" y2="409"/>
<line class="m" x1="545.4" y1="413.3" x2="556.7" y2="413.3"/>
<line class="m" x1="545.4" y1="417.6" x2="556.7" y2="417.6"/>
<line class="m" x1="545.4" y1="421.9" x2="556.7" y2="421.9"/>
<line class="m" x1="545.4" y1="426.2" x2="556.7" y2="426.2"/>
<line class="m" x1="545.4" y1="430.5" x2="556.7" y2="430.5"/>
<rect class="sh2" x="545.9" y="430.5" width="10.3" height="2.4"/>
<line class="m" x1="545.4" y1="434.8" x2="556.7" y2="434.8"/>
<line class="m" x1="545.4" y1="439.1" x2="556.7" y2="439.1"/>
<line class="m" x1="545.4" y1="443.4" x2="556.7" y2="443.4"/>
<line class="m" x1="545.4" y1="447.7" x2="556.7" y2="447.7"/>
<line class="m" x1="545.4" y1="452" x2="556.7" y2="452"/>
<line class="m" x1="545.4" y1="456.3" x2="556.7" y2="456.3"/>
<line class="m" x1="545.4" y1="460.6" x2="556.7" y2="460.6"/>
<rect class="sh2" x="545.9" y="460.6" width="10.3" height="2.4"/>
<line class="m" x1="545.4" y1="464.9" x2="556.7" y2="464.9"/>
<line class="m" x1="545.4" y1="469.2" x2="556.7" y2="469.2"/>
<line class="m" x1="545.4" y1="473.5" x2="556.7" y2="473.5"/>
<line class="m" x1="545.4" y1="477.8" x2="556.7" y2="477.8"/>
<line class="m" x1="545.4" y1="482.1" x2="556.7" y2="482.1"/>
<line class="m" x1="545.4" y1="486.4" x2="556.7" y2="486.4"/>
<line class="m" x1="545.4" y1="490.7" x2="556.7" y2="490.7"/>
<rect class="sh2" x="545.9" y="490.7" width="10.3" height="2.4"/>
<line class="m" x1="545.4" y1="495" x2="556.7" y2="495"/>
<line class="m" x1="545.4" y1="499.3" x2="556.7" y2="499.3"/>
<line class="m" x1="545.4" y1="503.6" x2="556.7" y2="503.6"/>
<line class="m" x1="545.4" y1="507.9" x2="556.7" y2="507.9"/>
<line class="m" x1="545.4" y1="512.2" x2="556.7" y2="512.2"/>
<line class="m" x1="545.4" y1="516.5" x2="556.7" y2="516.5"/>
<line class="m" x1="545.4" y1="520.8" x2="556.7" y2="520.8"/>
<rect class="sh2" x="545.9" y="520.8" width="10.3" height="2.4"/>
<line class="m" x1="545.4" y1="525.1" x2="556.7" y2="525.1"/>
<line class="m" x1="545.4" y1="529.4" x2="556.7" y2="529.4"/>
<line class="m" x1="545.4" y1="533.7" x2="556.7" y2="533.7"/>
<line class="m" x1="545.4" y1="538" x2="556.7" y2="538"/>
<line class="m" x1="545.4" y1="542.3" x2="556.7" y2="542.3"/>
<line class="m" x1="545.4" y1="546.6" x2="556.7" y2="546.6"/>
<line class="m" x1="545.4" y1="550.9" x2="556.7" y2="550.9"/>
<rect class="sh2" x="545.9" y="550.9" width="10.3" height="2.4"/>
<line class="m" x1="545.4" y1="555.2" x2="556.7" y2="555.2"/>
<line class="m" x1="545.4" y1="559.5" x2="556.7" y2="559.5"/>
<line class="m" x1="545.4" y1="563.8" x2="556.7" y2="563.8"/>
<path class="kf" d="M616,296 L543,291.4 Q540.8,291.3 540.8,289.8 Q540.8,288.5 543,288.5 H616"/>
<line class="k" x1="556.7" y1="287.3" x2="616" y2="282"/>
<path class="kf" d="M569.6,334.7 L571.5,496 Q571.7,500.4 576,500.4 H672.5 Q678.5,500.4 678.5,495 V334.7"/>
<line class="g" x1="672.3" y1="335" x2="672.3" y2="495"/>
<line class="g" x1="573" y1="497.2" x2="672" y2="497.2"/>
<rect class="kf" x="568" y="328" width="112.6" height="6.7" rx="1.4"/>
<line class="t" x1="569" y1="329.6" x2="680" y2="329.6"/>
<line class="t" x1="569" y1="332.8" x2="680" y2="332.8"/>
<rect class="kf" x="568" y="342" width="112.8" height="2.2" rx="1.1"/>
<rect class="kf" x="669.3" y="326.7" width="31.4" height="8.7" rx="3"/>
<line class="g" x1="695.5" y1="327.5" x2="695.5" y2="335"/>
<line class="g" x1="697.5" y1="327.5" x2="697.5" y2="335"/>
<line class="t" x1="669.3" y1="329.6" x2="692" y2="329.6"/>
<clipPath id="c3"><rect x="570.6" y="380" width="40" height="45"/></clipPath>
<g clip-path="url(#c3)">
<g transform="translate(579 402.3)">
<path class="lg" d="M-20.3,-7.4 C-12,-14 -5,-17 1.2,-17 C10,-17 18,-12 21.5,-6.2 C17,-10.5 11,-12 5,-12 C-1,-12 -4,-8 -8,-7.4 Z"/>
<path class="lg" d="M17.7,9.1 C12,15 4,17.7 -1.9,17.7 C-10,17.7 -18,14 -21.5,10.4 V8.2 H-19.5 V10 C-14,14 -8,13.6 -5,12.8 C0,11.5 1,8.8 5,8.6 Z"/>
<text class="lt" x="-1.4" y="6.6" font-size="16.6" text-anchor="middle" transform="skewX(-14)">АНИ</text>
<line class="k" x1="-19.5" y1="8.3" x2="3" y2="8.3"/>
<text class="ls" x="-9.8" y="11.9" font-size="3.6" text-anchor="middle">пласт</text>
</g>
</g>
<rect class="kf" x="590.7" y="336.7" width="35.3" height="20.7" rx="2"/>
<rect class="cf" x="594.7" y="339.3" width="14.7" height="5.5" rx="2.6"/>
<rect class="cf" x="613.3" y="339.3" width="12.7" height="5.5" rx="2.6"/>
<rect class="kf" x="594.7" y="348.7" width="14.7" height="5.4" rx="2.6"/>
<rect class="kf" x="613.3" y="348.7" width="12.7" height="5.4" rx="2.6"/>
<path class="kf" d="M627.3,362 V556 Q627.3,563 634,563 H648 Q654.7,563 654.7,556 V362"/>
<rect class="sl" x="635.3" y="366.6" width="18" height="4" rx="2"/>
<rect class="sl" x="635.3" y="375.23" width="18" height="4" rx="2"/>
<rect class="sl" x="635.3" y="383.86" width="18" height="4" rx="2"/>
<rect class="sl" x="635.3" y="392.49" width="18" height="4" rx="2"/>
<rect class="sl" x="635.3" y="401.12" width="18" height="4" rx="2"/>
<rect class="sl" x="635.3" y="409.75" width="18" height="4" rx="2"/>
<rect class="sl" x="635.3" y="418.38" width="18" height="4" rx="2"/>
<rect class="sl" x="635.3" y="427.01" width="18" height="4" rx="2"/>
<rect class="sl" x="635.3" y="435.64" width="18" height="4" rx="2"/>
<rect class="sl" x="635.3" y="444.27" width="18" height="4" rx="2"/>
<rect class="sl" x="635.3" y="452.9" width="18" height="4" rx="2"/>
<rect class="sl" x="635.3" y="461.53" width="18" height="4" rx="2"/>
<rect class="sl" x="635.3" y="470.16" width="18" height="4" rx="2"/>
<rect class="sl" x="635.3" y="478.79" width="18" height="4" rx="2"/>
<rect class="sl" x="635.3" y="487.42" width="18" height="4" rx="2"/>
<rect class="sl" x="635.3" y="496.05" width="18" height="4" rx="2"/>
<rect class="sl" x="635.3" y="504.68" width="18" height="4" rx="2"/>
<rect class="sl" x="635.3" y="513.31" width="18" height="4" rx="2"/>
<rect class="sl" x="635.3" y="521.94" width="18" height="4" rx="2"/>
<rect class="sl" x="635.3" y="530.57" width="18" height="4" rx="2"/>
<rect class="sl" x="635.3" y="539.2" width="18" height="4" rx="2"/>
<rect class="sl" x="635.3" y="547.83" width="18" height="4" rx="2"/>
<text class="tb" x="634.6" y="365.19" font-size="7" text-anchor="end">5</text>
<text class="tb" x="634.6" y="373.8" font-size="7" text-anchor="end">6</text>
<text class="tb" x="634.6" y="382.41" font-size="7" text-anchor="end">7</text>
<text class="tb" x="634.6" y="391.02" font-size="7" text-anchor="end">8</text>
<text class="tb" x="634.6" y="399.63" font-size="7" text-anchor="end">9</text>
<text class="tb" x="634.6" y="408.24" font-size="7" text-anchor="end">10</text>
<text class="tb" x="634.6" y="416.85" font-size="7" text-anchor="end">11</text>
<text class="tb" x="634.6" y="425.46" font-size="7" text-anchor="end">12</text>
<text class="tb" x="634.6" y="434.07" font-size="7" text-anchor="end">13</text>
<text class="tb" x="634.6" y="442.68" font-size="7" text-anchor="end">14</text>
<text class="tb" x="634.6" y="451.29" font-size="7" text-anchor="end">15</text>
<text class="tb" x="634.6" y="459.9" font-size="7" text-anchor="end">16</text>
<text class="tb" x="634.6" y="468.51" font-size="7" text-anchor="end">17</text>
<text class="tb" x="634.6" y="477.12" font-size="7" text-anchor="end">18</text>
<text class="tb" x="634.6" y="485.73" font-size="7" text-anchor="end">19</text>
<text class="tb" x="634.6" y="494.34" font-size="7" text-anchor="end">20</text>
<text class="tb" x="634.6" y="502.95" font-size="7" text-anchor="end">21</text>
<text class="tb" x="634.6" y="511.56" font-size="7" text-anchor="end">22</text>
<text class="tb" x="634.6" y="520.17" font-size="7" text-anchor="end">23</text>
<text class="tb" x="634.6" y="528.78" font-size="7" text-anchor="end">24</text>
<line class="g" x1="641" y1="362" x2="641" y2="637"/>
<rect class="kf" x="618" y="360.4" width="46" height="2.8" rx="1.4"/>
<rect class="sb" x="623.7" y="332.7" width="34.7" height="29.3"/>
<rect class="kf" x="658.6" y="336" width="4.8" height="21.4" rx="2"/>
<polygon class="trs" points="639.49,340.9 642.91,340.9 644.78,343.4 637.62,343.4"/>
<polygon class="trs" points="635.61,346.1 646.79,346.1 648.8,348.8 633.6,348.8"/>
<polygon class="trs" points="631.66,351.4 650.74,351.4 652.75,354.1 629.65,354.1"/>
<polygon class="trs" points="627.79,356.6 654.61,356.6 656.32,358.9 626.08,358.9"/>
<line class="t" x1="641" y1="313.5" x2="641" y2="362"/>
<polygon class="b" points="641.2,339.5 639.9,335.5 642.5,335.5"/>
<text class="tb" x="632" y="330.6" font-size="7" text-anchor="middle">1</text>
<path class="k" d="M678.5,480.8 L701,482.4 Q706.8,483 706.8,489 V513.5"/>
<path class="t" d="M678.5,483.2 L700,484.6 Q704.6,485.2 704.6,490 V513.5"/>
<text class="tb" x="593.2" y="513.3" font-size="9.4" text-anchor="middle" transform="translate(593.2 0) scale(.74 1) translate(-593.2 0)">MIN</text>
<text class="tb" x="689.2" y="513.3" font-size="9.4" text-anchor="middle" transform="translate(689.2 0) scale(.74 1) translate(-689.2 0)">MAX</text>
<path class="k" d="M571.7,496 Q571.7,503 575.2,506 V513.5"/>
<rect class="kf" x="567.2" y="513.5" width="16.8" height="3.4" rx="1.2"/>
<rect class="kf" x="699.5" y="513.5" width="14.9" height="3.4" rx="1.2"/>
<path class="k" d="M584,516.6 H606 Q614,516.6 618,512 Q622.5,507.6 627.3,507.6"/>
<line class="k" x1="654.7" y1="516.6" x2="699.5" y2="516.6"/>
<path class="k" d="M569.6,516.9 V528.4 L567.6,565.8 H714.4 L712.4,528.4 V516.9"/>
<line class="k" x1="569.6" y1="528.4" x2="712.4" y2="528.4"/>
<line class="g" x1="569.6" y1="526.6" x2="712.4" y2="526.6"/>
<line class="m" x1="574.3" y1="528.4" x2="573.1" y2="565"/>
<line class="m" x1="707.7" y1="528.4" x2="708.9" y2="565"/>
<line class="m" x1="579" y1="528.4" x2="577.8" y2="565"/>
<line class="m" x1="703" y1="528.4" x2="704.2" y2="565"/>
<line class="t" x1="616.3" y1="528.4" x2="616.3" y2="560"/>
<line class="t" x1="664.8" y1="528.4" x2="664.8" y2="560"/>
<path class="k" d="M590.5,560 H691.6 L693.8,563 Q693.8,564.2 692,564.2 H590 Q588.3,564.2 588.3,563 Z"/>
<path class="kf" d="M627.3,540 V556 Q627.3,563 634,563 H648 Q654.7,563 654.7,556 V540"/>
<rect class="sl" x="635.3" y="539.2" width="18" height="4" rx="2"/>
<rect class="sl" x="635.3" y="547.83" width="18" height="4" rx="2"/>
<line class="g" x1="641" y1="540" x2="641" y2="566"/>
<rect class="kf" x="567.2" y="565.8" width="148" height="8.7" rx="1.6"/>
<line class="g" x1="568" y1="567.4" x2="714.4" y2="567.4"/>
<rect class="kf" x="570.5" y="574.5" width="141.1" height="6.7" rx="0.6"/>
<rect class="wf" x="589.4" y="581.6" width="103.2" height="12"/>
<path class="th" d="M589.4,583.3 L692.6,582.6"/>
<path class="th" d="M589.4,585.7 L692.6,585"/>
<path class="th" d="M589.4,588.1 L692.6,587.4"/>
<path class="th" d="M589.4,590.5 L692.6,589.8"/>
<path class="th" d="M589.4,592.9 L692.6,592.2"/>
<path class="t" d="M589.4,581.6 l-1.2,1.5 l1.2,1.5 l-1.2,1.5 l1.2,1.5 l-1.2,1.5 l1.2,1.5 l-1.2,1.5 l1.2,1.5"/>
<path class="t" d="M692.6,581.6 l1.2,1.5 l-1.2,1.5 l1.2,1.5 l-1.2,1.5 l1.2,1.5 l-1.2,1.5 l1.2,1.5 l-1.2,1.5"/>
<rect class="kf" x="571.4" y="594.5" width="139.2" height="5.5" rx="1.2"/>
<line class="g" x1="572.5" y1="596.3" x2="709.5" y2="596.3"/>
<path class="kf" d="M573.3,600 V610 Q573.3,613 577,614 L585.5,616.6 H696.5 L705,614 Q708.7,613 708.7,610 V600"/>
<line class="g" x1="585" y1="616.6" x2="585" y2="600"/>
<line class="g" x1="697" y1="616.6" x2="697" y2="600"/>
<path class="k" d="M592,600 V612.5 Q592,615.5 597.25,615.5 Q602.5,615.5 602.5,612.5 V600"/>
<line class="g" x1="593.8" y1="601" x2="593.8" y2="612.5"/>
<path class="k" d="M637.4,600 V612.5 Q637.4,615.5 640.6,615.5 Q643.8,615.5 643.8,612.5 V600"/>
<line class="g" x1="639.2" y1="601" x2="639.2" y2="612.5"/>
<path class="k" d="M679.5,600 V612.5 Q679.5,615.5 684.75,615.5 Q690,615.5 690,612.5 V600"/>
<line class="g" x1="681.3" y1="601" x2="681.3" y2="612.5"/>
<path class="t" d="M574.5,601 V611 Q574.5,613 578,612 L582.5,610 V601"/>
<path class="t" d="M707.5,601 V611 Q707.5,613 704,612 L699.5,610 V601"/>
<rect class="wf" x="590" y="617" width="102" height="11.4"/>
<path class="th" d="M590,617.9 L692,618.6"/>
<path class="th" d="M590,620.2 L692,620.9"/>
<path class="th" d="M590,622.5 L692,623.2"/>
<path class="th" d="M590,624.8 L692,625.5"/>
<path class="th" d="M590,627.1 L692,627.8"/>
<path class="t" d="M590,617 l-1.2,1.4 l1.2,1.4 l-1.2,1.4 l1.2,1.4 l-1.2,1.4 l1.2,1.4 l-1.2,1.4 l1.2,1.4"/>
<path class="t" d="M692,617 l1.2,1.4 l-1.2,1.4 l1.2,1.4 l-1.2,1.4 l1.2,1.4 l-1.2,1.4 l1.2,1.4 l-1.2,1.4"/>
<rect class="kf" x="592.4" y="628.4" width="97.4" height="4.4" rx="0.8"/>
<line class="c" x1="641" y1="566" x2="641" y2="637"/>
<path class="k" d="M821.1,67.8 C838.6,62.3 866.6,62.3 884.1,67.8"/>
<path class="g" d="M830.6,67.8 C843.6,64.4 861.6,64.4 874.6,67.8"/>
<path class="kf" d="M815.6,72.7 Q813.2,72.7 813.6,70.5 Q814.6,67.6 818.1,67.6 H887.1 Q890.6,67.6 891.6,70.5 Q892,72.7 889.6,72.7 Z"/>
<path class="kf" d="M820.3,72.7 V102 Q820.3,105.4 823.6,105.4 H881.6 Q884.9,105.4 884.9,102 V72.7"/>
<line class="g" x1="821.6" y1="102" x2="883.6" y2="102"/>
<rect class="kf" x="839" y="106" width="27.3" height="2.6" rx="0.8"/>
<path class="th" d="M838.6,110 Q852.6,111.2 866.6,110.2"/>
<path class="th" d="M838.6,112.1 Q852.6,113.3 866.6,112.3"/>
<path class="th" d="M838.6,114.2 Q852.6,115.4 866.6,114.4"/>
<path class="kf" d="M834.6,141.5 L835,117 Q835,115.3 836.6,115.3 H868.6 Q870.2,115.3 870.2,117 L870.6,141.5"/>
<line class="g" x1="852.6" y1="60" x2="852.6" y2="142"/>
<line class="d" x1="820.5" y1="96.7" x2="884.8" y2="96.7"/>
<polygon class="b" points="820.5,96.7 829,95.4 829,98"/>
<polygon class="b" points="884.8,96.7 876.3,95.4 876.3,98"/>
<text class="tx" transform="translate(853.5 89.3) scale(0.74 1)" font-size="21" text-anchor="middle">Ø37</text>
<path class="k" d="M798,142 H907.4 V187 L929.2,231.5 V331 M798,142 V187 L776,231.5 V331"/>
<path class="k" d="M803.7,170.7 V190 L782,233.5 V329 M901.5,170.7 V190 L923.4,233.5 V329"/>
<line class="k" x1="798" y1="154.7" x2="907.4" y2="154.7"/>
<line class="g" x1="802.3" y1="142.5" x2="802.3" y2="154.3"/>
<line class="g" x1="902.9" y1="142.5" x2="902.9" y2="154.3"/>
<line class="g" x1="814.3" y1="142.5" x2="814.3" y2="154.3"/>
<line class="g" x1="890.9" y1="142.5" x2="890.9" y2="154.3"/>
<line class="g" x1="821" y1="142.5" x2="821" y2="154.3"/>
<line class="g" x1="884.2" y1="142.5" x2="884.2" y2="154.3"/>
<line class="g" x1="798" y1="180" x2="803.7" y2="180"/>
<line class="g" x1="901.5" y1="180" x2="907.4" y2="180"/>
<line class="g" x1="776" y1="240" x2="782" y2="240"/>
<line class="g" x1="923.4" y1="240" x2="929.2" y2="240"/>
<line class="g" x1="776" y1="253" x2="782" y2="253"/>
<line class="g" x1="923.4" y1="253" x2="929.2" y2="253"/>
<line class="g" x1="776" y1="272" x2="782" y2="272"/>
<line class="g" x1="923.4" y1="272" x2="929.2" y2="272"/>
<line class="g" x1="776" y1="285" x2="782" y2="285"/>
<line class="g" x1="923.4" y1="285" x2="929.2" y2="285"/>
<path class="t" d="M823.7,154.7 L827.8,149.3 H877.6 L881.7,154.7"/>
<path class="g" d="M826.5,154.7 L829.4,151 H876 L878.9,154.7"/>
<rect class="t" x="835" y="151.6" width="13" height="3.1"/>
<rect class="t" x="850" y="151.6" width="5.4" height="3.1"/>
<rect class="t" x="857" y="151.6" width="13" height="3.1"/>
<rect class="k" x="803.7" y="155.6" width="97.8" height="15.1"/>
<line class="k" x1="803.7" y1="164.4" x2="901.5" y2="164.4"/>
<rect class="g" x="805.3" y="156.4" width="94.7" height="13.6"/>
<line class="g" x1="816.7" y1="155.6" x2="816.7" y2="170.7"/>
<line class="g" x1="888.5" y1="155.6" x2="888.5" y2="170.7"/>
<line class="g" x1="828" y1="155.6" x2="828" y2="170.7"/>
<line class="g" x1="877.2" y1="155.6" x2="877.2" y2="170.7"/>
<path class="k" d="M803.7,172.7 H812.3 V174.4 H803.7 M901.5,172.7 H893 V174.4 H901.5"/>
<line class="t" x1="829.7" y1="170.7" x2="829.7" y2="190.7"/>
<line class="t" x1="875.7" y1="170.7" x2="875.7" y2="190.7"/>
<line class="g" x1="832" y1="170.7" x2="832" y2="180"/>
<line class="g" x1="873.4" y1="170.7" x2="873.4" y2="180"/>
<rect class="kf" x="826" y="190.7" width="53.7" height="14" rx="0.8"/>
<rect class="t" x="828.4" y="194" width="5" height="8.6"/>
<rect class="t" x="871.8" y="194" width="5" height="8.6"/>
<rect class="kf" x="833.7" y="180" width="38.6" height="25.3" rx="1"/>
<rect class="t" x="836" y="182" width="33.6" height="7"/>
<rect class="k" x="838" y="183.5" width="4" height="5"/>
<rect class="k" x="863.2" y="183.5" width="4" height="5"/>
<line class="t" x1="838" y1="183.5" x2="842" y2="188.5"/>
<line class="t" x1="867.2" y1="183.5" x2="863.2" y2="188.5"/>
<rect class="kf" x="842.6" y="180.8" width="20.4" height="7.2"/>
<rect class="k" x="836.6" y="189" width="32.4" height="10"/>
<path class="k" d="M838.5,199 V197 H850.4 V199 M855,199 V197 H867 V199"/>
<circle class="t" cx="852.6" cy="193" r="2.6"/>
<line class="t" x1="852.6" y1="189.5" x2="852.6" y2="197"/>
<line class="t" x1="849.4" y1="193" x2="856" y2="193"/>
<rect class="k" x="838.4" y="199" width="28.6" height="6.3"/>
<path class="t" d="M850.4,199 L852.6,202 L855,199"/>
<path class="kf" d="M844.6,205.3 V229.5 Q844.6,233.8 849,233.8 H857 Q861.8,233.8 861.8,229.5 V205.3"/>
<path class="k" d="M848,207 V226 Q848,228.5 850.4,228.5 H855 Q857.4,228.5 857.4,226 V207"/>
<line class="k" x1="850.6" y1="207" x2="850.6" y2="222"/>
<line class="k" x1="855" y1="207" x2="855" y2="222"/>
<line class="t" x1="846" y1="207.4" x2="860.4" y2="207.4"/>
<rect class="kf" x="815.4" y="252.9" width="74.3" height="4.3" rx="1.8"/>
<path class="kf" d="M818.5,257.2 C818.5,270 821,276 829.8,279.8 H877.5 C886,276 887,270 887,257.2"/>
<line class="g" x1="819" y1="260.2" x2="886.5" y2="260.2"/>
<line class="g" x1="820" y1="267.5" x2="885.6" y2="267.5"/>
<line class="g" x1="825.5" y1="277" x2="881.6" y2="277"/>
<rect class="kf" x="829" y="279.8" width="49.4" height="2.8" rx="0.8"/>
<rect class="kf" x="828" y="282.6" width="51" height="16.4"/>
<line class="t" x1="831.5" y1="282.6" x2="831.5" y2="299"/>
<line class="t" x1="873.7" y1="282.6" x2="873.7" y2="299"/>
<rect class="kf" x="824.6" y="288.4" width="56.4" height="3.5" rx="1.4"/>
<rect class="kf" x="841.6" y="284" width="22" height="12.5" rx="1"/>
<line class="k" x1="841.6" y1="288.4" x2="863.6" y2="288.4"/>
<line class="k" x1="841.6" y1="291.9" x2="863.6" y2="291.9"/>
<rect class="gf" x="829" y="296.5" width="48" height="2.9" rx="0.6"/>
<rect class="kf" x="810.7" y="302.3" width="83.8" height="19.1" rx="2.4"/>
<line class="g" x1="812.6" y1="303.6" x2="812.6" y2="320"/>
<line class="g" x1="892.6" y1="303.6" x2="892.6" y2="320"/>
<path class="kf" d="M820.3,318 V300.6 Q820.3,299 822,299 L826,298.6 H879.2 L883.6,299 Q885.3,299 885.3,300.6 V318"/>
<line class="t" x1="823" y1="302.4" x2="882.6" y2="302.4"/>
<rect class="kf" x="816.4" y="318" width="72.6" height="3.4" rx="0.8"/>
<rect class="k" x="828" y="321.4" width="49.4" height="7.6"/>
<line class="g" x1="836" y1="321.4" x2="836" y2="329"/>
<line class="g" x1="869.2" y1="321.4" x2="869.2" y2="329"/>
<rect class="kf" x="848" y="233.8" width="9.4" height="49.2"/>
<line class="c2" x1="852.6" y1="233.8" x2="852.6" y2="283"/>
<rect class="kf" x="782" y="329" width="141.4" height="3"/>
<path class="kf" d="M763.6,331 H782 V362 H763.6 Z"/>
<path class="kf" d="M924,331 H942 V362 H924 Z"/>
<rect class="k" x="768" y="335.6" width="8" height="22.6" rx="1.4"/>
<rect class="g" x="769.6" y="337.2" width="4.8" height="19.4" rx="0.8"/>
<rect class="k" x="928.8" y="335.6" width="9.2" height="22.6" rx="1.4"/>
<rect class="g" x="930.4" y="337.2" width="6" height="19.4" rx="0.8"/>
<line class="g" x1="765.6" y1="332" x2="765.6" y2="361"/>
<line class="g" x1="940" y1="332" x2="940" y2="361"/>
<line class="k" x1="776" y1="331" x2="776" y2="565"/>
<line class="k" x1="780.6" y1="332" x2="780.6" y2="565"/>
<line class="k" x1="929.2" y1="331" x2="929.2" y2="565"/>
<line class="k" x1="924" y1="332" x2="924" y2="565"/>
<line class="g" x1="783" y1="344" x2="783" y2="497"/>
<line class="g" x1="922" y1="344" x2="922" y2="497"/>
<rect class="kf" x="778" y="341.6" width="149" height="2.8" rx="1.2"/>
<ellipse class="k" cx="782.6" cy="352" rx="2.4" ry="0.9"/>
<ellipse class="k" cx="922.4" cy="352" rx="2.4" ry="0.9"/>
<ellipse class="k" cx="782.6" cy="361" rx="2.4" ry="0.9"/>
<ellipse class="k" cx="922.4" cy="361" rx="2.4" ry="0.9"/>
<rect class="k" x="771.5" y="367.3" width="4.5" height="3.4" rx="1.5"/>
<rect class="k" x="929.2" y="367.3" width="4.4" height="3.4" rx="1.5"/>
<rect class="k" x="771.5" y="375.82" width="4.5" height="3.4" rx="1.5"/>
<rect class="k" x="929.2" y="375.82" width="4.4" height="3.4" rx="1.5"/>
<rect class="k" x="771.5" y="384.34" width="4.5" height="3.4" rx="1.5"/>
<rect class="k" x="929.2" y="384.34" width="4.4" height="3.4" rx="1.5"/>
<rect class="k" x="771.5" y="392.86" width="4.5" height="3.4" rx="1.5"/>
<rect class="k" x="929.2" y="392.86" width="4.4" height="3.4" rx="1.5"/>
<rect class="k" x="771.5" y="401.38" width="4.5" height="3.4" rx="1.5"/>
<rect class="k" x="929.2" y="401.38" width="4.4" height="3.4" rx="1.5"/>
<rect class="k" x="771.5" y="409.9" width="4.5" height="3.4" rx="1.5"/>
<rect class="k" x="929.2" y="409.9" width="4.4" height="3.4" rx="1.5"/>
<rect class="k" x="771.5" y="418.42" width="4.5" height="3.4" rx="1.5"/>
<rect class="k" x="929.2" y="418.42" width="4.4" height="3.4" rx="1.5"/>
<rect class="k" x="771.5" y="426.94" width="4.5" height="3.4" rx="1.5"/>
<rect class="k" x="929.2" y="426.94" width="4.4" height="3.4" rx="1.5"/>
<rect class="k" x="771.5" y="435.46" width="4.5" height="3.4" rx="1.5"/>
<rect class="k" x="929.2" y="435.46" width="4.4" height="3.4" rx="1.5"/>
<rect class="k" x="771.5" y="443.98" width="4.5" height="3.4" rx="1.5"/>
<rect class="k" x="929.2" y="443.98" width="4.4" height="3.4" rx="1.5"/>
<rect class="k" x="771.5" y="452.5" width="4.5" height="3.4" rx="1.5"/>
<rect class="k" x="929.2" y="452.5" width="4.4" height="3.4" rx="1.5"/>
<rect class="k" x="771.5" y="461.02" width="4.5" height="3.4" rx="1.5"/>
<rect class="k" x="929.2" y="461.02" width="4.4" height="3.4" rx="1.5"/>
<rect class="k" x="771.5" y="469.54" width="4.5" height="3.4" rx="1.5"/>
<rect class="k" x="929.2" y="469.54" width="4.4" height="3.4" rx="1.5"/>
<rect class="k" x="771.5" y="478.06" width="4.5" height="3.4" rx="1.5"/>
<rect class="k" x="929.2" y="478.06" width="4.4" height="3.4" rx="1.5"/>
<rect class="k" x="771.5" y="486.58" width="4.5" height="3.4" rx="1.5"/>
<rect class="k" x="929.2" y="486.58" width="4.4" height="3.4" rx="1.5"/>
<rect class="k" x="771.5" y="495.1" width="4.5" height="3.4" rx="1.5"/>
<rect class="k" x="929.2" y="495.1" width="4.4" height="3.4" rx="1.5"/>
<rect class="k" x="771.5" y="503.62" width="4.5" height="3.4" rx="1.5"/>
<rect class="k" x="929.2" y="503.62" width="4.4" height="3.4" rx="1.5"/>
<rect class="k" x="771.5" y="512.14" width="4.5" height="3.4" rx="1.5"/>
<rect class="k" x="929.2" y="512.14" width="4.4" height="3.4" rx="1.5"/>
<rect class="k" x="771.5" y="520.66" width="4.5" height="3.4" rx="1.5"/>
<rect class="k" x="929.2" y="520.66" width="4.4" height="3.4" rx="1.5"/>
<rect class="k" x="771.5" y="529.18" width="4.5" height="3.4" rx="1.5"/>
<rect class="k" x="929.2" y="529.18" width="4.4" height="3.4" rx="1.5"/>
<rect class="k" x="771.5" y="537.7" width="4.5" height="3.4" rx="1.5"/>
<rect class="k" x="929.2" y="537.7" width="4.4" height="3.4" rx="1.5"/>
<rect class="k" x="771.5" y="546.22" width="4.5" height="3.4" rx="1.5"/>
<rect class="k" x="929.2" y="546.22" width="4.4" height="3.4" rx="1.5"/>
<line class="d" x1="763.6" y1="362" x2="763.6" y2="378"/>
<line class="d" x1="942" y1="362" x2="942" y2="378"/>
<line class="d" x1="763.6" y1="374.4" x2="942" y2="374.4"/>
<polygon class="b" points="763.6,374.4 772.1,373.1 772.1,375.7"/>
<polygon class="b" points="942,374.4 933.5,373.1 933.5,375.7"/>
<text class="tx" transform="translate(889 367.6) scale(0.63 1)" font-size="21" text-anchor="middle">103</text>
<g transform="translate(889.5 401.8)">
<path class="lg" d="M-20.3,-7.4 C-12,-14 -5,-17 1.2,-17 C10,-17 18,-12 21.5,-6.2 C17,-10.5 11,-12 5,-12 C-1,-12 -4,-8 -8,-7.4 Z"/>
<path class="lg" d="M17.7,9.1 C12,15 4,17.7 -1.9,17.7 C-10,17.7 -18,14 -21.5,10.4 V8.2 H-19.5 V10 C-14,14 -8,13.6 -5,12.8 C0,11.5 1,8.8 5,8.6 Z"/>
<text class="lt" x="-1.4" y="6.6" font-size="16.6" text-anchor="middle" transform="skewX(-14)">АНИ</text>
<line class="k" x1="-19.5" y1="8.3" x2="3" y2="8.3"/>
<text class="ls" x="-9.8" y="11.9" font-size="3.6" text-anchor="middle">пласт</text>
</g>
<line class="g" x1="783" y1="497" x2="922" y2="497"/>
<path class="k" d="M781,499.2 H919 Q922.5,499.2 922,501 L918.5,512.5 Q917.5,516 913.5,516.2 H781"/>
<path class="t" d="M920.4,501 L917,512 Q916,514.4 913.5,514.6"/>
<rect class="k" x="782" y="502.6" width="4.4" height="6.4" rx="1.4"/>
<rect class="k" x="782" y="510.4" width="5" height="4.2" rx="1.4"/>
<path class="k" d="M820,516 V513.4 Q820,512 822,512 L824,511.2 H838 V516 M834,512 V516"/>
<path class="k" d="M872.6,516 V512.6 H880 L882,511.2 H886 L888,512.6 Q890,513 890,516"/>
<text class="tb" x="808" y="513.5" font-size="9.4" text-anchor="middle" transform="translate(808 0) scale(.74 1) translate(-808 0)">MAX</text>
<text class="tb" x="897.6" y="513.5" font-size="9.4" text-anchor="middle" transform="translate(897.6 0) scale(.74 1) translate(-897.6 0)">MIN</text>
<line class="t" x1="781" y1="517.4" x2="924" y2="517.4"/>
<line class="k" x1="781" y1="528" x2="924" y2="528"/>
<line class="g" x1="781" y1="529.6" x2="924" y2="529.6"/>
<line class="t" x1="786" y1="528" x2="786" y2="564"/>
<line class="t" x1="919.2" y1="528" x2="919.2" y2="564"/>
<line class="k" x1="790" y1="528" x2="790" y2="564"/>
<line class="k" x1="915.2" y1="528" x2="915.2" y2="564"/>
<line class="t" x1="828" y1="528" x2="828" y2="560"/>
<line class="t" x1="877" y1="528" x2="877" y2="560"/>
<path class="k" d="M844,528 V560 M861.2,528 V560"/>
<path class="k" d="M802,560 H903.6 L906,563 Q906,564.2 904.4,564.2 H801.4 Q800,564.2 800,563 Z"/>
<rect class="wf" x="848.2" y="283" width="9" height="283"/>
<line class="t" x1="848.2" y1="283" x2="848.2" y2="563"/>
<line class="t" x1="857.2" y1="283" x2="857.2" y2="563"/>
<ellipse class="sp" cx="852.6" cy="283.5" rx="8" ry="1.75"/>
<ellipse class="sp" cx="852.6" cy="292.02" rx="8" ry="1.75"/>
<ellipse class="sp" cx="852.6" cy="300.54" rx="8" ry="1.75"/>
<ellipse class="sp" cx="852.6" cy="309.06" rx="8" ry="1.75"/>
<ellipse class="sp" cx="852.6" cy="317.58" rx="8" ry="1.75"/>
<ellipse class="sp" cx="852.6" cy="326.1" rx="8" ry="1.75"/>
<ellipse class="sp" cx="852.6" cy="334.62" rx="8" ry="1.75"/>
<ellipse class="sp" cx="852.6" cy="343.14" rx="8" ry="1.75"/>
<ellipse class="sp" cx="852.6" cy="351.66" rx="8" ry="1.75"/>
<ellipse class="sp" cx="852.6" cy="360.18" rx="8" ry="1.75"/>
<ellipse class="sp" cx="852.6" cy="368.7" rx="8" ry="1.75"/>
<ellipse class="sp" cx="852.6" cy="377.22" rx="8" ry="1.75"/>
<ellipse class="sp" cx="852.6" cy="385.74" rx="8" ry="1.75"/>
<ellipse class="sp" cx="852.6" cy="394.26" rx="8" ry="1.75"/>
<ellipse class="sp" cx="852.6" cy="402.78" rx="8" ry="1.75"/>
<ellipse class="sp" cx="852.6" cy="411.3" rx="8" ry="1.75"/>
<ellipse class="sp" cx="852.6" cy="419.82" rx="8" ry="1.75"/>
<ellipse class="sp" cx="852.6" cy="428.34" rx="8" ry="1.75"/>
<ellipse class="sp" cx="852.6" cy="436.86" rx="8" ry="1.75"/>
<ellipse class="sp" cx="852.6" cy="445.38" rx="8" ry="1.75"/>
<ellipse class="sp" cx="852.6" cy="453.9" rx="8" ry="1.75"/>
<ellipse class="sp" cx="852.6" cy="462.42" rx="8" ry="1.75"/>
<ellipse class="sp" cx="852.6" cy="470.94" rx="8" ry="1.75"/>
<ellipse class="sp" cx="852.6" cy="479.46" rx="8" ry="1.75"/>
<ellipse class="sp" cx="852.6" cy="487.98" rx="8" ry="1.75"/>
<ellipse class="sp" cx="852.6" cy="496.5" rx="8" ry="1.75"/>
<ellipse class="sp" cx="852.6" cy="505.02" rx="8" ry="1.75"/>
<ellipse class="sp" cx="852.6" cy="513.54" rx="8" ry="1.75"/>
<ellipse class="sp" cx="852.6" cy="522.06" rx="8" ry="1.75"/>
<ellipse class="sp" cx="852.6" cy="530.58" rx="8" ry="1.75"/>
<ellipse class="sp" cx="852.6" cy="539.1" rx="8" ry="1.75"/>
<ellipse class="sp" cx="852.6" cy="547.62" rx="8" ry="1.75"/>
<ellipse class="sp" cx="852.6" cy="556.14" rx="8" ry="1.75"/>
<path class="k" d="M846.6,560 V563 Q846.6,567 852.6,567 Q858.8,567 858.8,563 V560"/>
<line class="c2" x1="852.6" y1="283" x2="852.6" y2="566"/>
<rect class="kf" x="779.6" y="565" width="146.4" height="9.5" rx="1.6"/>
<line class="g" x1="780.6" y1="566.8" x2="925" y2="566.8"/>
<rect class="kf" x="783" y="574.5" width="140" height="7.2" rx="0.6"/>
<rect class="wf" x="801" y="581.6" width="103.2" height="12"/>
<path class="th" d="M801,583.3 L904.2,582.6"/>
<path class="th" d="M801,585.7 L904.2,585"/>
<path class="th" d="M801,588.1 L904.2,587.4"/>
<path class="th" d="M801,590.5 L904.2,589.8"/>
<path class="th" d="M801,592.9 L904.2,592.2"/>
<path class="t" d="M801,581.6 l-1.2,1.5 l1.2,1.5 l-1.2,1.5 l1.2,1.5 l-1.2,1.5 l1.2,1.5 l-1.2,1.5 l1.2,1.5"/>
<path class="t" d="M904.2,581.6 l1.2,1.5 l-1.2,1.5 l1.2,1.5 l-1.2,1.5 l1.2,1.5 l-1.2,1.5 l1.2,1.5 l-1.2,1.5"/>
<rect class="kf" x="783" y="594.5" width="139.2" height="5.5" rx="1.2"/>
<line class="g" x1="784.1" y1="596.3" x2="921.1" y2="596.3"/>
<path class="kf" d="M784.9,600 V610 Q784.9,613 788.6,614 L797.1,616.6 H908.1 L916.6,614 Q920.3,613 920.3,610 V600"/>
<line class="g" x1="796.6" y1="616.6" x2="796.6" y2="600"/>
<line class="g" x1="908.6" y1="616.6" x2="908.6" y2="600"/>
<path class="k" d="M803.6,600 V612.5 Q803.6,615.5 808.85,615.5 Q814.1,615.5 814.1,612.5 V600"/>
<line class="g" x1="805.4" y1="601" x2="805.4" y2="612.5"/>
<path class="k" d="M849,600 V612.5 Q849,615.5 852.2,615.5 Q855.4,615.5 855.4,612.5 V600"/>
<line class="g" x1="850.8" y1="601" x2="850.8" y2="612.5"/>
<path class="k" d="M891.1,600 V612.5 Q891.1,615.5 896.35,615.5 Q901.6,615.5 901.6,612.5 V600"/>
<line class="g" x1="892.9" y1="601" x2="892.9" y2="612.5"/>
<path class="t" d="M786.1,601 V611 Q786.1,613 789.6,612 L794.1,610 V601"/>
<path class="t" d="M919.1,601 V611 Q919.1,613 915.6,612 L911.1,610 V601"/>
<rect class="wf" x="801.6" y="617" width="102" height="11.4"/>
<path class="th" d="M801.6,617.9 L903.6,618.6"/>
<path class="th" d="M801.6,620.2 L903.6,620.9"/>
<path class="th" d="M801.6,622.5 L903.6,623.2"/>
<path class="th" d="M801.6,624.8 L903.6,625.5"/>
<path class="th" d="M801.6,627.1 L903.6,627.8"/>
<path class="t" d="M801.6,617 l-1.2,1.4 l1.2,1.4 l-1.2,1.4 l1.2,1.4 l-1.2,1.4 l1.2,1.4 l-1.2,1.4 l1.2,1.4"/>
<path class="t" d="M903.6,617 l1.2,1.4 l-1.2,1.4 l1.2,1.4 l-1.2,1.4 l1.2,1.4 l-1.2,1.4 l1.2,1.4 l-1.2,1.4"/>
<rect class="kf" x="804" y="628.4" width="97.4" height="4.4" rx="0.8"/>
<line class="c" x1="852.6" y1="567" x2="852.6" y2="637"/>
</svg>
</body></html>
